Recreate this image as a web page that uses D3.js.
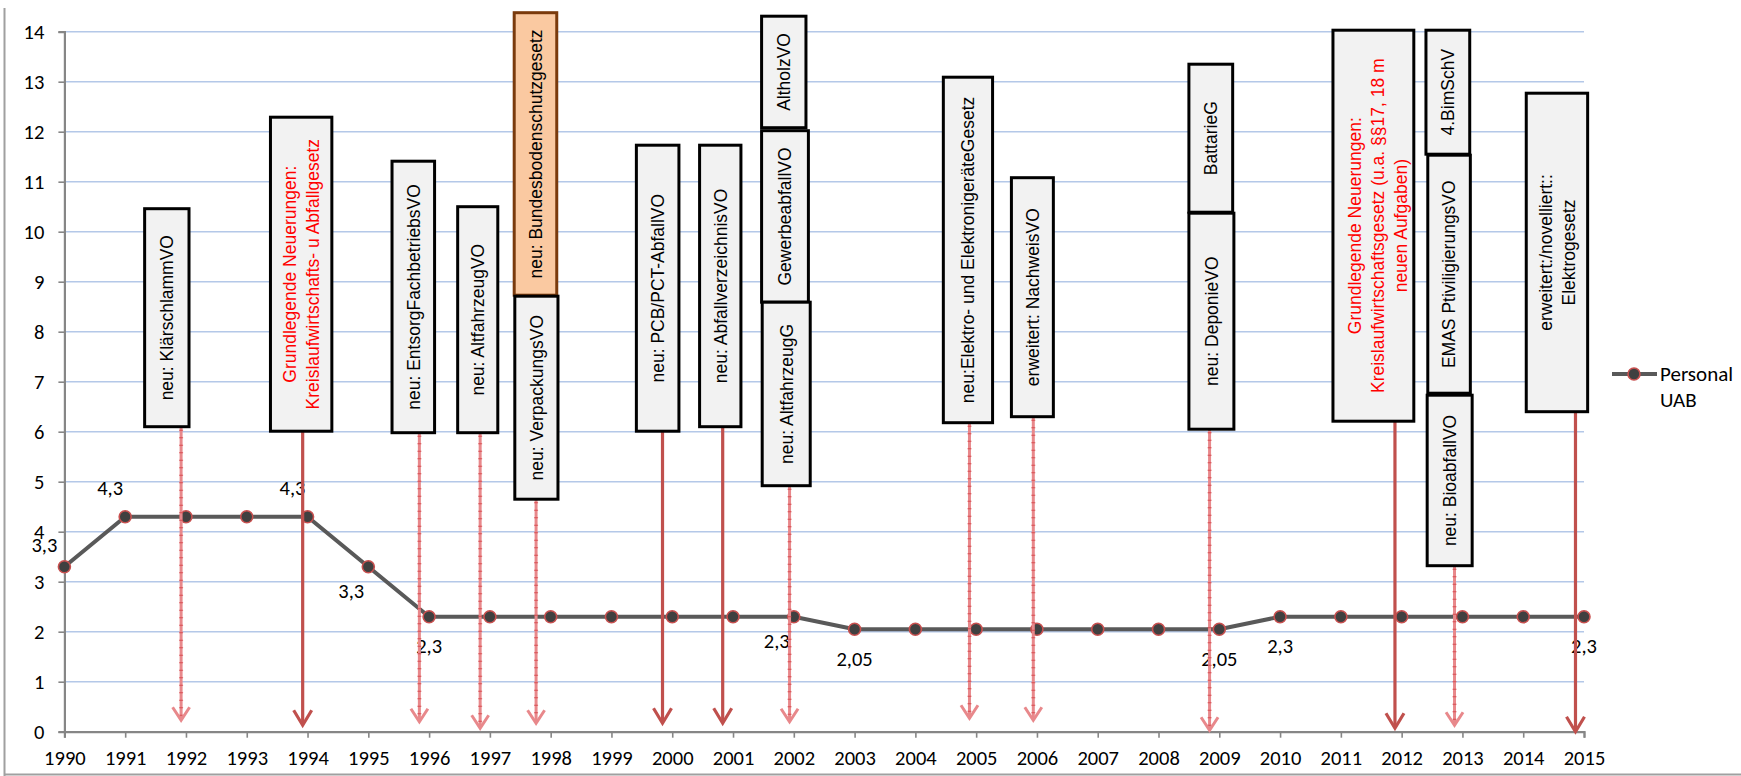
<!DOCTYPE html>
<html>
<head>
<meta charset="utf-8">
<script src="https://cdn.jsdelivr.net/npm/d3@7/dist/d3.min.js"></script>
<style>
  html, body { margin: 0; padding: 0; background: #ffffff; }
  svg { display: block; }
</style>
</head>
<body>
<svg id="chart" width="1741" height="776"></svg>
<script>
// ---------------- DATA ----------------
const years = [1990,1991,1992,1993,1994,1995,1996,1997,1998,1999,2000,2001,2002,2003,
               2004,2005,2006,2007,2008,2009,2010,2011,2012,2013,2014,2015];
const personalUAB = [3.3,4.3,4.3,4.3,4.3,3.3,2.3,2.3,2.3,2.3,2.3,2.3,2.3,2.05,
                     2.05,2.05,2.05,2.05,2.05,2.05,2.3,2.3,2.3,2.3,2.3,2.3];
const seriesName = ["Personal", "UAB"];
const yTicks = [0,1,2,3,4,5,6,7,8,9,10,11,12,13,14];

// data labels shown (year) and where they sit relative to the point
const labelYears  = [1990, 1991, 1994, 1995, 1996, 2002, 2003, 2009, 2010, 2015];
const labelPlaces = ["upleft", "up", "up", "downleft", "down", "downleft", "down", "down", "down", "down"];

// annotation boxes (in data units: year span and value span)
const boxText = [
  ["neu: KlärschlammVO"],
  ["Grundlegende Neuerungen:", "Kreislaufwirtschafts- u Abfallgesetz"],
  ["neu: EntsorgFachbetriebsVO"],
  ["neu: AltfahrzeugVO"],
  ["neu: Bundesbodenschutzgesetz"],
  ["neu: VerpackungsVO"],
  ["neu: PCB/PCT-AbfallVO"],
  ["neu: AbfallverzeichnisVO"],
  ["AltholzVO"],
  ["GewerbeabfallVO"],
  ["neu:  AltfahrzeugG"],
  ["neu:Elektro- und ElektronigeräteGesetz"],
  ["erweitert: NachweisVO"],
  ["BattarieG"],
  ["neu: DeponieVO"],
  ["Grundlegende Neuerungen:", "Kreislaufwirtschaftsgesetz (u.a. §§17, 18 m", "neuen Aufgaben)"],
  ["4.BimSchV"],
  ["EMAS PtiviligierungsVO"],
  ["neu: BioabfallVO"],
  ["erweitert:/novelliert::", "Elektrogesetz"]
];
const boxYearFrom = [1991.32, 1993.39, 1995.39, 1996.47, 1997.40, 1997.41, 1999.41, 2000.45, 2001.47, 2001.47,
                     2001.48, 2004.46, 2005.58, 2008.50, 2008.50, 2010.87, 2012.40, 2012.43, 2012.42, 2014.05];
const boxYearTo   = [1992.05, 1994.40, 1996.09, 1997.13, 1998.10, 1998.12, 2000.11, 2001.13, 2002.20, 2002.24,
                     2002.27, 2005.27, 2006.27, 2009.22, 2009.24, 2012.20, 2013.12, 2013.13, 2013.16, 2015.06];
const boxTop      = [10.46, 12.29, 11.41, 10.50, 14.38, 8.71, 11.73, 11.73, 14.31, 12.02,
                     8.59, 13.09, 11.08, 13.35, 10.37, 14.03, 14.03, 11.53, 6.73, 12.77];
const boxBottom   = [6.10, 6.01, 5.98, 5.98, 8.73, 4.65, 6.01, 6.10, 12.08, 8.59,
                     4.92, 6.18, 6.30, 10.39, 6.05, 6.21, 11.55, 6.77, 3.32, 6.40];
const boxKind     = ["plain","red","plain","plain","orange","plain","plain","plain","plain","plain",
                     "plain","plain","plain","plain","plain","red","plain","plain","plain","plain"];

// arrows from box bottoms down toward the x axis
const arrowYear  = [1991.92, 1993.92, 1995.84, 1996.84, 1997.76, 1999.84, 2000.83, 2001.93,
                    2004.89, 2005.94, 2008.84, 2011.89, 2012.87, 2014.86];
const arrowFrom  = [6.10, 6.01, 5.98, 5.98, 4.65, 6.01, 6.10, 4.92, 6.18, 6.30, 6.05, 6.21, 3.32, 6.40];
const arrowTo    = [0.23, 0.13, 0.20, 0.07, 0.17, 0.17, 0.17, 0.20, 0.27, 0.23, 0.03, 0.07, 0.13, 0.00];
const arrowKind  = ["dash","solid","dash","dash","dash","solid","solid","dash",
                    "dash","dash","dash","solid","dash","solid"];

// ---------------- CHART ----------------
const svg = d3.select("#chart");
const x = d3.scaleLinear().domain([1990, 2015]).range([64.4, 1584]);
const y = d3.scaleLinear().domain([0, 14]).range([731.7, 31.7]);
const numFont = "Carlito, Calibri, Lato, 'Open Sans', sans-serif";
const boxFont = "'Liberation Sans', Arial, Helvetica, sans-serif";
const numSize = 20.5;

// outer chart-area border (left and bottom visible)
svg.append("line").attr("x1", 4.5).attr("x2", 4.5).attr("y1", 8).attr("y2", 776)
  .attr("stroke", "#A0A0A0").attr("stroke-width", 2);
svg.append("line").attr("x1", 4).attr("x2", 1741).attr("y1", 774.5).attr("y2", 774.5)
  .attr("stroke", "#A0A0A0").attr("stroke-width", 2);

// gridlines
svg.append("g").selectAll("line").data(yTicks.filter(d => d > 0)).join("line")
  .attr("x1", x(1990)).attr("x2", x(2015))
  .attr("y1", d => y(d)).attr("y2", d => y(d))
  .attr("stroke", "#B4C8E8").attr("stroke-width", 1.6);

// axes
const yAxis = svg.append("g").attr("transform", `translate(${x(1990)},0)`)
  .call(d3.axisLeft(y).tickValues(yTicks).tickFormat(d3.format("d")).tickSize(6).tickPadding(14));
const xAxis = svg.append("g").attr("transform", `translate(0,${y(0)})`)
  .call(d3.axisBottom(x).tickValues(years).tickFormat(d3.format("d")).tickSize(6).tickPadding(12.5));
[yAxis, xAxis].forEach(g => {
  g.select(".domain").attr("stroke", "#868686").attr("stroke-width", 2.2);
  g.selectAll(".tick line").attr("stroke", "#868686").attr("stroke-width", 1.6);
  g.selectAll(".tick text").attr("font-family", numFont).attr("font-size", numSize).attr("fill", "#000");
});

// series line
const pts = years.map((yr, i) => ({ yr, v: personalUAB[i] }));
svg.append("path").datum(pts)
  .attr("fill", "none").attr("stroke", "#595959").attr("stroke-width", 4)
  .attr("stroke-linejoin", "round")
  .attr("d", d3.line().x(d => x(d.yr)).y(d => y(d.v)));
svg.append("g").selectAll("circle").data(pts).join("circle")
  .attr("cx", d => x(d.yr)).attr("cy", d => y(d.v)).attr("r", 6)
  .attr("fill", "#404040").attr("stroke", "#C8504F").attr("stroke-width", 1.6);

// data labels
const fmt = v => String(v).replace(".", ",");
const placeOff = {
  upleft:   [-20, -21],
  up:       [-15, -28],
  downleft: [-17, 25],
  down:     [0, 30]
};
svg.append("g").selectAll("text").data(labelYears).join("text")
  .attr("x", (yr, i) => x(yr) + placeOff[labelPlaces[i]][0])
  .attr("y", (yr, i) => y(personalUAB[years.indexOf(yr)]) + placeOff[labelPlaces[i]][1])
  .attr("dy", "0.33em")
  .attr("text-anchor", "middle")
  .attr("font-family", numFont).attr("font-size", numSize).attr("fill", "#000")
  .text(yr => fmt(personalUAB[years.indexOf(yr)]));

// arrows
const arrows = svg.append("g");
arrowYear.forEach((yr, i) => {
  const ax = x(yr), y1 = y(arrowFrom[i]), y2 = y(arrowTo[i]);
  const solid = arrowKind[i] === "solid";
  const col = solid ? "#C0504D" : "#E8888B";
  const hw = solid ? 9 : 8.5, hl = solid ? 15 : 13;
  arrows.append("line").attr("x1", ax).attr("x2", ax).attr("y1", y1).attr("y2", y2 - 1)
    .attr("stroke", col).attr("stroke-width", solid ? 3.2 : 3);
  if (!solid) {
    arrows.append("line").attr("x1", ax).attr("x2", ax).attr("y1", y1 + 3).attr("y2", y2 - 4)
      .attr("stroke", "#D23A3F").attr("stroke-width", 4).attr("stroke-dasharray", "1 6.5")
      .attr("opacity", 0.75);
  }
  arrows.append("path")
    .attr("d", `M${ax - hw},${y2 - hl} L${ax},${y2} L${ax + hw},${y2 - hl}`)
    .attr("fill", "none").attr("stroke", col).attr("stroke-width", solid ? 3.2 : 3)
    .attr("stroke-linejoin", "miter");
});

// annotation boxes
const boxes = svg.append("g");
boxText.forEach((lines, i) => {
  const x0 = x(boxYearFrom[i]), x1 = x(boxYearTo[i]);
  const y0 = y(boxTop[i]), y1 = y(boxBottom[i]);
  const kind = boxKind[i];
  boxes.append("rect")
    .attr("x", x0).attr("y", y0).attr("width", x1 - x0).attr("height", y1 - y0)
    .attr("fill", kind === "orange" ? "#FAC9A1" : "#F2F2F2")
    .attr("stroke", kind === "orange" ? "#7A3A0C" : "#000")
    .attr("stroke-width", 3);
  const cx = (x0 + x1) / 2 + (lines.length === 3 ? 4 : 0), cy = (y0 + y1) / 2;
  const t = boxes.append("text")
    .attr("transform", `translate(${cx},${cy}) rotate(-90)`)
    .attr("text-anchor", "middle")
    .attr("font-family", boxFont).attr("font-size", 17.5)
    .attr("fill", kind === "red" ? "#FF0000" : "#000");
  const step = 23;
  lines.forEach((ln, j) => {
    t.append("tspan").attr("x", 0)
      .attr("y", (j - (lines.length - 1) / 2) * step)
      .attr("dy", "0.36em").text(ln);
  });
});

// legend
const lg = svg.append("g");
lg.append("line").attr("x1", 1612).attr("x2", 1657).attr("y1", 374).attr("y2", 374)
  .attr("stroke", "#595959").attr("stroke-width", 4);
lg.append("circle").attr("cx", 1634).attr("cy", 374).attr("r", 6)
  .attr("fill", "#404040").attr("stroke", "#C8504F").attr("stroke-width", 1.6);
lg.append("text").attr("x", 1660).attr("y", 381)
  .attr("font-family", numFont).attr("font-size", 21).attr("fill", "#000")
  .selectAll("tspan").data(seriesName).join("tspan")
  .attr("x", 1660).attr("dy", (d, i) => i === 0 ? 0 : 26).text(d => d);
</script>
</body>
</html>
